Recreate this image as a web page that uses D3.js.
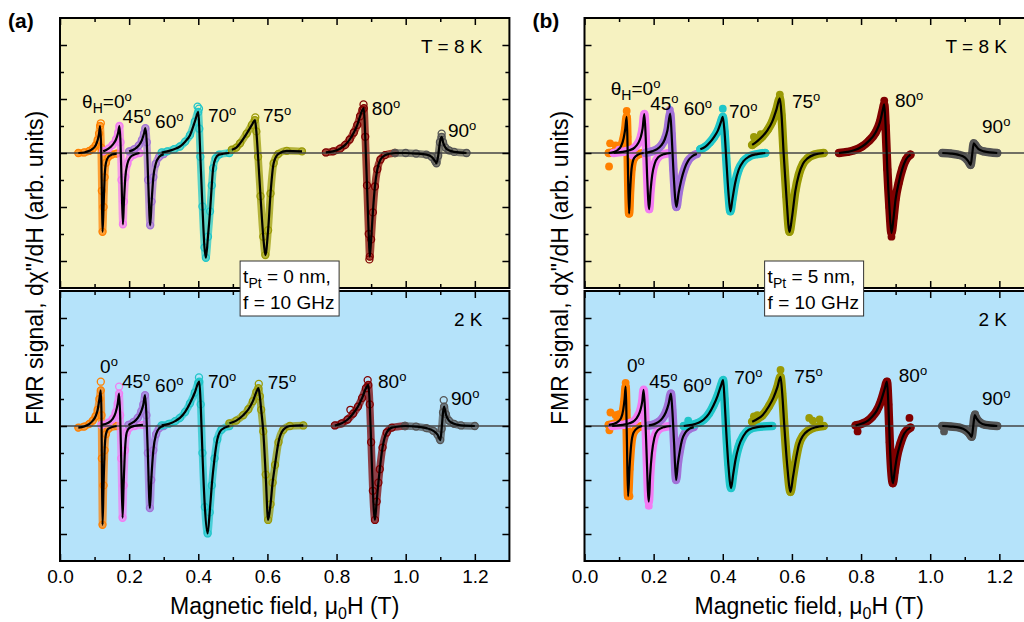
<html>
<head>
<meta charset="utf-8">
<title>FMR angle dependence</title>
<script src="https://cdn.jsdelivr.net/npm/d3@7"></script>
<style>
    body { margin: 0; background: #fff; }
    text { font-family: "Liberation Sans", Arial, sans-serif; fill: #000; }
</style>
</head>
<body>
<svg id="fig" width="1024" height="622"></svg>
<script>
    // angles and series colours
    var angles = ["0", "45", "60", "70", "75", "80", "90"];
    var colors = ["#ff8000", "#f27cf2", "#a272d8", "#1fc6c9", "#9a9a05", "#800000", "#555555"];

    var xTicks = [0, 0.2, 0.4, 0.6, 0.8, 1.0, 1.2];
    var xMinor = [0.1, 0.3, 0.5, 0.7, 0.9, 1.1];
    var yTicks = [-2, -1, 0, 1, 2];
    var yMinor = [-1.5, -0.5, 0.5, 1.5];

    // [field (T), signal] per angle
    // (a) tPt = 0 nm, T = 8 K
    var a8K = [
        [[0.053,0],[0.07,0.01],[0.085,0.04],[0.095,0.08],[0.103,0.14],[0.109,0.24],[0.113,0.36],[0.116,0.5],[0.119,0.1],[0.121,-0.7],[0.123,-1.46],[0.126,-1.0],[0.129,-0.45],[0.133,-0.18],[0.14,-0.07],[0.15,-0.03],[0.164,-0.01]],
        [[0.125,0.03],[0.14,0.08],[0.152,0.15],[0.162,0.25],[0.168,0.37],[0.172,0.5],[0.175,0.2],[0.178,-0.5],[0.182,-1.32],[0.185,-0.9],[0.189,-0.45],[0.195,-0.2],[0.203,-0.08],[0.215,-0.03],[0.23,0]],
        [[0.2,0.03],[0.215,0.07],[0.228,0.14],[0.237,0.24],[0.243,0.36],[0.247,0.46],[0.251,0.2],[0.255,-0.5],[0.261,-1.34],[0.265,-0.9],[0.27,-0.45],[0.277,-0.2],[0.287,-0.07],[0.3,-0.02]],
        [[0.294,0.01],[0.31,0.03],[0.33,0.07],[0.347,0.12],[0.362,0.21],[0.376,0.33],[0.39,0.58],[0.4,0.76],[0.403,0.45],[0.406,-0.07],[0.412,-0.99],[0.418,-1.75],[0.422,-1.94],[0.428,-1.55],[0.434,-1.08],[0.439,-0.6],[0.443,-0.28],[0.45,-0.1],[0.46,-0.03],[0.49,0]],
        [[0.497,0.06],[0.51,0.1],[0.521,0.18],[0.54,0.36],[0.555,0.52],[0.564,0.61],[0.568,0.4],[0.573,-0.07],[0.58,-0.8],[0.588,-1.55],[0.594,-1.89],[0.602,-1.43],[0.609,-0.75],[0.618,-0.19],[0.631,-0.02],[0.656,0.04],[0.7,0.03]],
        [[0.769,0.01],[0.79,0.03],[0.81,0.08],[0.825,0.15],[0.838,0.25],[0.85,0.38],[0.86,0.52],[0.868,0.68],[0.875,0.8],[0.879,0.83],[0.883,0.3],[0.888,-0.6],[0.893,-1.5],[0.896,-1.92],[0.9,-1.6],[0.905,-1.1],[0.911,-0.62],[0.918,-0.3],[0.927,-0.12],[0.94,-0.04],[0.969,0]],
        [[0.969,0],[1.0,0],[1.03,-0.01],[1.06,-0.03],[1.075,-0.07],[1.085,-0.15],[1.089,-0.19],[1.094,-0.05],[1.099,0.2],[1.104,0.3],[1.108,0.2],[1.115,0.1],[1.125,0.05],[1.14,0.02],[1.176,0]]
    ];
    // (a) T = 2 K
    var a2K = [
        [[0.053,-0.03],[0.07,-0.01],[0.085,0.04],[0.095,0.1],[0.103,0.18],[0.109,0.3],[0.114,0.5],[0.118,0.66],[0.12,0.2],[0.121,-0.6],[0.123,-1.83],[0.126,-1.1],[0.129,-0.45],[0.133,-0.15],[0.14,-0.05],[0.164,0]],
        [[0.12,0.02],[0.14,0.06],[0.152,0.13],[0.161,0.25],[0.167,0.42],[0.171,0.6],[0.174,0.2],[0.177,-0.6],[0.181,-1.7],[0.184,-1.1],[0.188,-0.45],[0.193,-0.12],[0.2,-0.04],[0.215,0],[0.24,0.02]],
        [[0.198,0.02],[0.212,0.07],[0.225,0.15],[0.235,0.27],[0.241,0.4],[0.246,0.57],[0.25,0.2],[0.254,-0.5],[0.26,-1.52],[0.264,-1.0],[0.27,-0.45],[0.278,-0.15],[0.287,-0.04],[0.3,0]],
        [[0.294,0.01],[0.315,0.04],[0.333,0.09],[0.347,0.15],[0.362,0.26],[0.376,0.42],[0.39,0.62],[0.4,0.8],[0.403,0.82],[0.407,0.4],[0.412,-0.5],[0.419,-1.5],[0.427,-1.99],[0.433,-1.6],[0.439,-1.1],[0.447,-0.6],[0.455,-0.25],[0.467,-0.07],[0.49,0]],
        [[0.49,0.05],[0.51,0.1],[0.53,0.2],[0.545,0.31],[0.558,0.46],[0.568,0.63],[0.574,0.7],[0.578,0.55],[0.582,0.3],[0.588,-0.1],[0.595,-0.9],[0.602,-1.74],[0.609,-1.45],[0.615,-1.05],[0.622,-0.72],[0.632,-0.3],[0.646,-0.07],[0.665,0],[0.704,0.01]],
        [[0.795,0.01],[0.815,0.05],[0.832,0.12],[0.848,0.23],[0.862,0.36],[0.874,0.52],[0.885,0.7],[0.892,0.76],[0.896,0.4],[0.9,-0.3],[0.905,-1.2],[0.911,-1.74],[0.916,-1.4],[0.921,-1.05],[0.925,-0.8],[0.933,-0.4],[0.945,-0.12],[0.96,-0.03],[0.998,0]],
        [[0.998,0],[1.03,-0.01],[1.06,-0.04],[1.08,-0.09],[1.092,-0.16],[1.1,-0.26],[1.104,-0.05],[1.108,0.25],[1.111,0.36],[1.116,0.22],[1.125,0.1],[1.14,0.04],[1.16,0.01],[1.2,0]]
    ];
    // (b) tPt = 5 nm, T = 8 K
    var b8K = [
        [[0.07,0],[0.085,0.02],[0.097,0.06],[0.106,0.13],[0.113,0.27],[0.118,0.45],[0.122,0.67],[0.124,0.3],[0.126,-0.4],[0.129,-1.12],[0.132,-0.7],[0.136,-0.3],[0.143,-0.1],[0.155,-0.03],[0.171,0]],
        [[0.084,0],[0.11,0.02],[0.13,0.05],[0.145,0.1],[0.155,0.18],[0.163,0.3],[0.168,0.45],[0.173,0.72],[0.177,0.3],[0.181,-0.4],[0.187,-1.04],[0.191,-0.7],[0.196,-0.4],[0.203,-0.2],[0.213,-0.08],[0.23,-0.02],[0.25,0]],
        [[0.176,0],[0.195,0.03],[0.21,0.07],[0.222,0.14],[0.232,0.25],[0.24,0.42],[0.248,0.73],[0.252,0.35],[0.257,-0.3],[0.266,-1.0],[0.272,-0.75],[0.28,-0.5],[0.29,-0.28],[0.3,-0.14],[0.312,-0.06],[0.325,-0.02]],
        [[0.335,0.07],[0.35,0.12],[0.363,0.2],[0.375,0.3],[0.386,0.42],[0.395,0.58],[0.4,0.67],[0.405,0.4],[0.41,-0.1],[0.416,-0.7],[0.422,-1.08],[0.428,-0.85],[0.436,-0.55],[0.446,-0.31],[0.46,-0.15],[0.475,-0.07],[0.5,-0.02],[0.523,0]],
        [[0.485,0.15],[0.5,0.22],[0.515,0.31],[0.53,0.43],[0.543,0.58],[0.555,0.8],[0.565,1.01],[0.57,0.7],[0.576,0],[0.584,-0.8],[0.593,-1.46],[0.6,-1.2],[0.61,-0.7],[0.62,-0.4],[0.632,-0.2],[0.645,-0.1],[0.665,-0.03],[0.692,0]],
        [[0.736,0],[0.76,0.02],[0.78,0.05],[0.803,0.12],[0.822,0.22],[0.842,0.38],[0.855,0.58],[0.863,0.8],[0.867,0.9],[0.871,0.5],[0.876,-0.3],[0.882,-1.0],[0.888,-1.48],[0.894,-1.2],[0.9,-0.85],[0.909,-0.55],[0.92,-0.28],[0.93,-0.12],[0.943,-0.03]],
        [[1.035,0],[1.06,-0.01],[1.08,-0.03],[1.1,-0.08],[1.11,-0.15],[1.117,-0.22],[1.121,-0.05],[1.126,0.18],[1.131,0.14],[1.14,0.07],[1.155,0.03],[1.194,0]]
    ];
    // (b) T = 2 K
    var b2K = [
        [[0.07,0.02],[0.085,0.04],[0.097,0.08],[0.106,0.15],[0.112,0.3],[0.116,0.5],[0.119,0.73],[0.121,0.3],[0.123,-0.4],[0.126,-1.3],[0.13,-0.8],[0.135,-0.35],[0.142,-0.12],[0.155,-0.03],[0.167,0]],
        [[0.08,0],[0.11,0.02],[0.13,0.05],[0.145,0.1],[0.155,0.19],[0.162,0.3],[0.167,0.45],[0.171,0.67],[0.175,0.3],[0.179,-0.4],[0.186,-1.4],[0.19,-0.9],[0.195,-0.5],[0.202,-0.22],[0.212,-0.08],[0.23,-0.02],[0.25,0]],
        [[0.186,0.01],[0.2,0.03],[0.213,0.07],[0.225,0.14],[0.235,0.25],[0.243,0.4],[0.25,0.6],[0.254,0.3],[0.259,-0.3],[0.265,-1.0],[0.27,-0.7],[0.276,-0.45],[0.282,-0.26],[0.292,-0.12],[0.304,-0.05],[0.316,-0.02]],
        [[0.287,0],[0.31,0.02],[0.33,0.06],[0.345,0.12],[0.36,0.23],[0.373,0.38],[0.385,0.56],[0.395,0.75],[0.401,0.85],[0.405,0.5],[0.41,-0.1],[0.416,-0.7],[0.424,-1.15],[0.43,-0.9],[0.437,-0.62],[0.446,-0.38],[0.46,-0.18],[0.475,-0.07],[0.5,-0.02],[0.543,0]],
        [[0.485,0.08],[0.5,0.13],[0.515,0.2],[0.533,0.36],[0.547,0.53],[0.558,0.72],[0.567,0.91],[0.572,0.6],[0.578,0],[0.586,-0.7],[0.596,-1.22],[0.603,-0.95],[0.612,-0.6],[0.62,-0.35],[0.632,-0.18],[0.648,-0.08],[0.67,-0.02],[0.692,0]],
        [[0.784,0.01],[0.805,0.05],[0.82,0.1],[0.832,0.17],[0.845,0.28],[0.857,0.45],[0.868,0.68],[0.875,0.82],[0.879,0.4],[0.883,-0.3],[0.887,-0.8],[0.892,-1.06],[0.897,-0.85],[0.903,-0.6],[0.914,-0.32],[0.925,-0.14],[0.943,-0.03]],
        [[1.035,0],[1.06,-0.01],[1.085,-0.03],[1.103,-0.08],[1.113,-0.14],[1.12,-0.2],[1.124,-0.03],[1.129,0.2],[1.134,0.14],[1.143,0.07],[1.16,0.02],[1.194,0]]
    ];

    // scattered points off the fits: [angle index, field, signal]
    var a8Kx = [[0,0.118,0.55],[3,0.398,0.86],[3,0.402,0.82],[4,0.565,0.66],[5,0.878,0.9],[5,0.895,-1.97],[6,1.104,0.36]];
    var a2Kx = [[0,0.118,0.82],[1,0.171,0.73],[3,0.402,0.9],[4,0.575,0.78],[5,0.89,0.85],[6,1.11,0.48],[5,0.84,0.3]];
    var b8Kx = [[0,0.071,-0.25],[0,0.074,0.18],[0,0.09,0.14],[0,0.1,0.12],[0,0.136,-0.2],[0,0.145,0.1],[0,0.122,0.78],[1,0.1,0.06],[1,0.14,-0.05],[2,0.247,0.8],[3,0.4,0.82],[4,0.49,0.3],[4,0.51,0.35],[4,0.565,1.08],[5,0.867,0.97],[5,0.888,-1.55]];
    var b2Kx = [[0,0.075,0.25],[0,0.072,-0.08],[0,0.09,0.2],[0,0.1,0.22],[0,0.119,0.8],[0,0.13,-1.3],[1,0.186,-1.48],[3,0.3,0.1],[3,0.45,-0.3],[4,0.49,0.18],[4,0.5,0.2],[4,0.567,1.04],[4,0.65,0.15],[4,0.66,0.1],[4,0.68,0.12],[5,0.79,-0.1],[5,0.94,0.15],[6,1.04,-0.1],[6,1.13,0.22]];

    // angle label anchors [field, signal]
    var a8KLab = [[0.064,0.83],[0.181,0.55],[0.275,0.46],[0.428,0.57],[0.587,0.57],[0.902,0.70],[1.122,0.30]];
    var a2KLab = [[0.116,0.98],[0.179,0.70],[0.275,0.63],[0.428,0.70],[0.601,0.69],[0.920,0.70],[1.131,0.39]];
    var b8KLab = [[0.076,1.07],[0.190,0.79],[0.287,0.70],[0.418,0.65],[0.600,0.83],[0.898,0.85],[1.150,0.37]];
    var b2KLab = [[0.123,1.00],[0.187,0.70],[0.285,0.63],[0.433,0.78],[0.607,0.80],[0.909,0.82],[1.150,0.39]];

    var svg = d3.select("#fig");
    var pxPerT = 345.7;

    function drawPlot(left, top, curves, extra, labs, open, bg, corner, first, bottomLabels) {
        var x = d3.scaleLinear().domain([0, 1.3]).range([left, left + 1.3 * pxPerT]);
        var y = d3.scaleLinear().domain([-2.5, 2.5]).range([top + 270, top]);
        var g = svg.append("g");

        g.append("rect")
            .attr("x", x(0)).attr("y", y(2.5))
            .attr("width", x(1.3) - x(0)).attr("height", y(-2.5) - y(2.5))
            .style("fill", bg);

        var line = d3.line()
            .x(function(d) { return x(d[0]); })
            .y(function(d) { return y(d[1]); })
            .curve(d3.curveMonotoneX);

        // measured points: dense band + markers
        curves.forEach(function(c, i) {
            g.append("path")
                .attr("d", line(c))
                .style("fill", "none")
                .style("stroke", colors[i])
                .style("stroke-width", open ? 7.5 : 8.5)
                .style("stroke-opacity", open ? 0.72 : 1)
                .style("stroke-linecap", "round")
                .style("stroke-linejoin", "round");
            var pts = c.concat(extra.filter(function(e) { return e[0] == i; }).map(function(e) { return [e[1], e[2]]; }));
            g.selectAll(null)
                .data(pts)
                .enter().append("circle")
                .attr("cx", function(d) { return x(d[0]); })
                .attr("cy", function(d) { return y(d[1]); })
                .attr("r", open ? 3.5 : 3.9)
                .style("fill", open ? "none" : colors[i])
                .style("stroke", colors[i])
                .style("stroke-width", open ? 1.3 : 0);
        });

        // zero line over the data, under the fits
        g.append("line")
            .attr("x1", x(0)).attr("x2", x(1.3))
            .attr("y1", y(0)).attr("y2", y(0))
            .style("stroke", "#444").style("stroke-width", 1.3);

        // fits
        curves.forEach(function(c) {
            g.append("path")
                .attr("d", line(c))
                .style("fill", "none")
                .style("stroke", "#000")
                .style("stroke-width", 2.2)
                .style("stroke-linejoin", "round");
        });

        // angle labels
        labs.forEach(function(p, i) {
            var t = g.append("text")
                .attr("x", x(p[0])).attr("y", y(p[1]))
                .style("font-size", "19px");
            if (first && i == 0) {
                t.append("tspan").text("\u03b8");
                t.append("tspan").attr("dy", 5).style("font-size", "14px").text("H");
                t.append("tspan").attr("dy", -5).text("=");
            }
            t.append("tspan").text(angles[i]);
            t.append("tspan").attr("dy", -7).style("font-size", "13px").text("o");
        });

        g.append("text")
            .attr("x", x(1.222)).attr("y", y(1.86))
            .attr("text-anchor", "end")
            .style("font-size", "19px")
            .text(corner);

        // inward ticks on all four sides
        function ticks(axis, vals, size, tx, ty) {
            var a = g.append("g")
                .attr("transform", "translate(" + tx + "," + ty + ")")
                .call(axis.tickValues(vals).tickSize(-size).tickFormat(""));
            a.select(".domain").remove();
            a.selectAll(".tick line").style("stroke", "#000").style("stroke-width", 1.5);
            return a;
        }
        ticks(d3.axisBottom(x), xTicks, 7, 0, y(-2.5));
        ticks(d3.axisBottom(x), xMinor, 4, 0, y(-2.5));
        ticks(d3.axisTop(x), xTicks, 7, 0, y(2.5));
        ticks(d3.axisTop(x), xMinor, 4, 0, y(2.5));
        ticks(d3.axisLeft(y), yTicks, 7, x(0), 0);
        ticks(d3.axisLeft(y), yMinor, 4, x(0), 0);
        ticks(d3.axisRight(y), yTicks, 7, x(1.3), 0);
        ticks(d3.axisRight(y), yMinor, 4, x(1.3), 0);

        if (bottomLabels) {
            var ax = g.append("g")
                .attr("transform", "translate(0," + y(-2.5) + ")")
                .call(d3.axisBottom(x).tickValues(xTicks).tickSize(0).tickPadding(9).tickFormat(d3.format(".1f")));
            ax.select(".domain").remove();
            ax.selectAll("text")
                .style("font-size", "19px")
                .style("font-family", "'Liberation Sans', Arial, sans-serif")
                .style("fill", "#000");
        }

        g.append("rect")
            .attr("x", x(0)).attr("y", y(2.5))
            .attr("width", x(1.3) - x(0)).attr("height", y(-2.5) - y(2.5))
            .style("fill", "none").style("stroke", "#000").style("stroke-width", 2);

        return x;
    }

    function drawColumn(left, top8, top2, d8, d8x, l8, d2, d2x, l2, open, letter, tpt) {
        drawPlot(left, top8, d8, d8x, l8, open, "#f6f2c1", "T = 8 K", true, false);
        var x = drawPlot(left, top2, d2, d2x, l2, open, "#b5e3fa", "2 K", false, true);

        // parameter box across the two panels
        var bx = x(0.521);
        svg.append("rect")
            .attr("x", bx).attr("y", top8 + 243)
            .attr("width", 99).attr("height", 55)
            .style("fill", "#fff").style("stroke", "#333").style("stroke-width", 1);
        var t1 = svg.append("text").attr("x", bx + 3).attr("y", top8 + 265).style("font-size", "19px");
        t1.append("tspan").text("t");
        t1.append("tspan").attr("dy", 5).style("font-size", "14px").text("Pt");
        t1.append("tspan").attr("dy", -5).text(" = " + tpt + " nm,");
        svg.append("text").attr("x", bx + 3).attr("y", top8 + 291).style("font-size", "19px").text("f = 10 GHz");

        // axis titles
        var xt = svg.append("text")
            .attr("x", x(0.65)).attr("y", 614)
            .attr("text-anchor", "middle")
            .style("font-size", "23px");
        xt.append("tspan").text("Magnetic field, \u03bc");
        xt.append("tspan").attr("dy", 5).style("font-size", "16px").text("0");
        xt.append("tspan").attr("dy", -5).text("H (T)");

        svg.append("text")
            .attr("transform", "translate(" + (left - 17) + ",268) rotate(-90)")
            .attr("text-anchor", "middle")
            .style("font-size", "23px")
            .text("FMR signal, d\u03c7\"/dH (arb. units)");

        svg.append("text")
            .attr("x", left - 52).attr("y", 28)
            .style("font-size", "21px").style("font-weight", "bold")
            .text(letter);
    }

    drawColumn(60, 18, 291, a8K, a8Kx, a8KLab, a2K, a2Kx, a2KLab, true, "(a)", "0");
    drawColumn(584.5, 18, 291, b8K, b8Kx, b8KLab, b2K, b2Kx, b2KLab, false, "(b)", "5");
</script>
</body>
</html>
